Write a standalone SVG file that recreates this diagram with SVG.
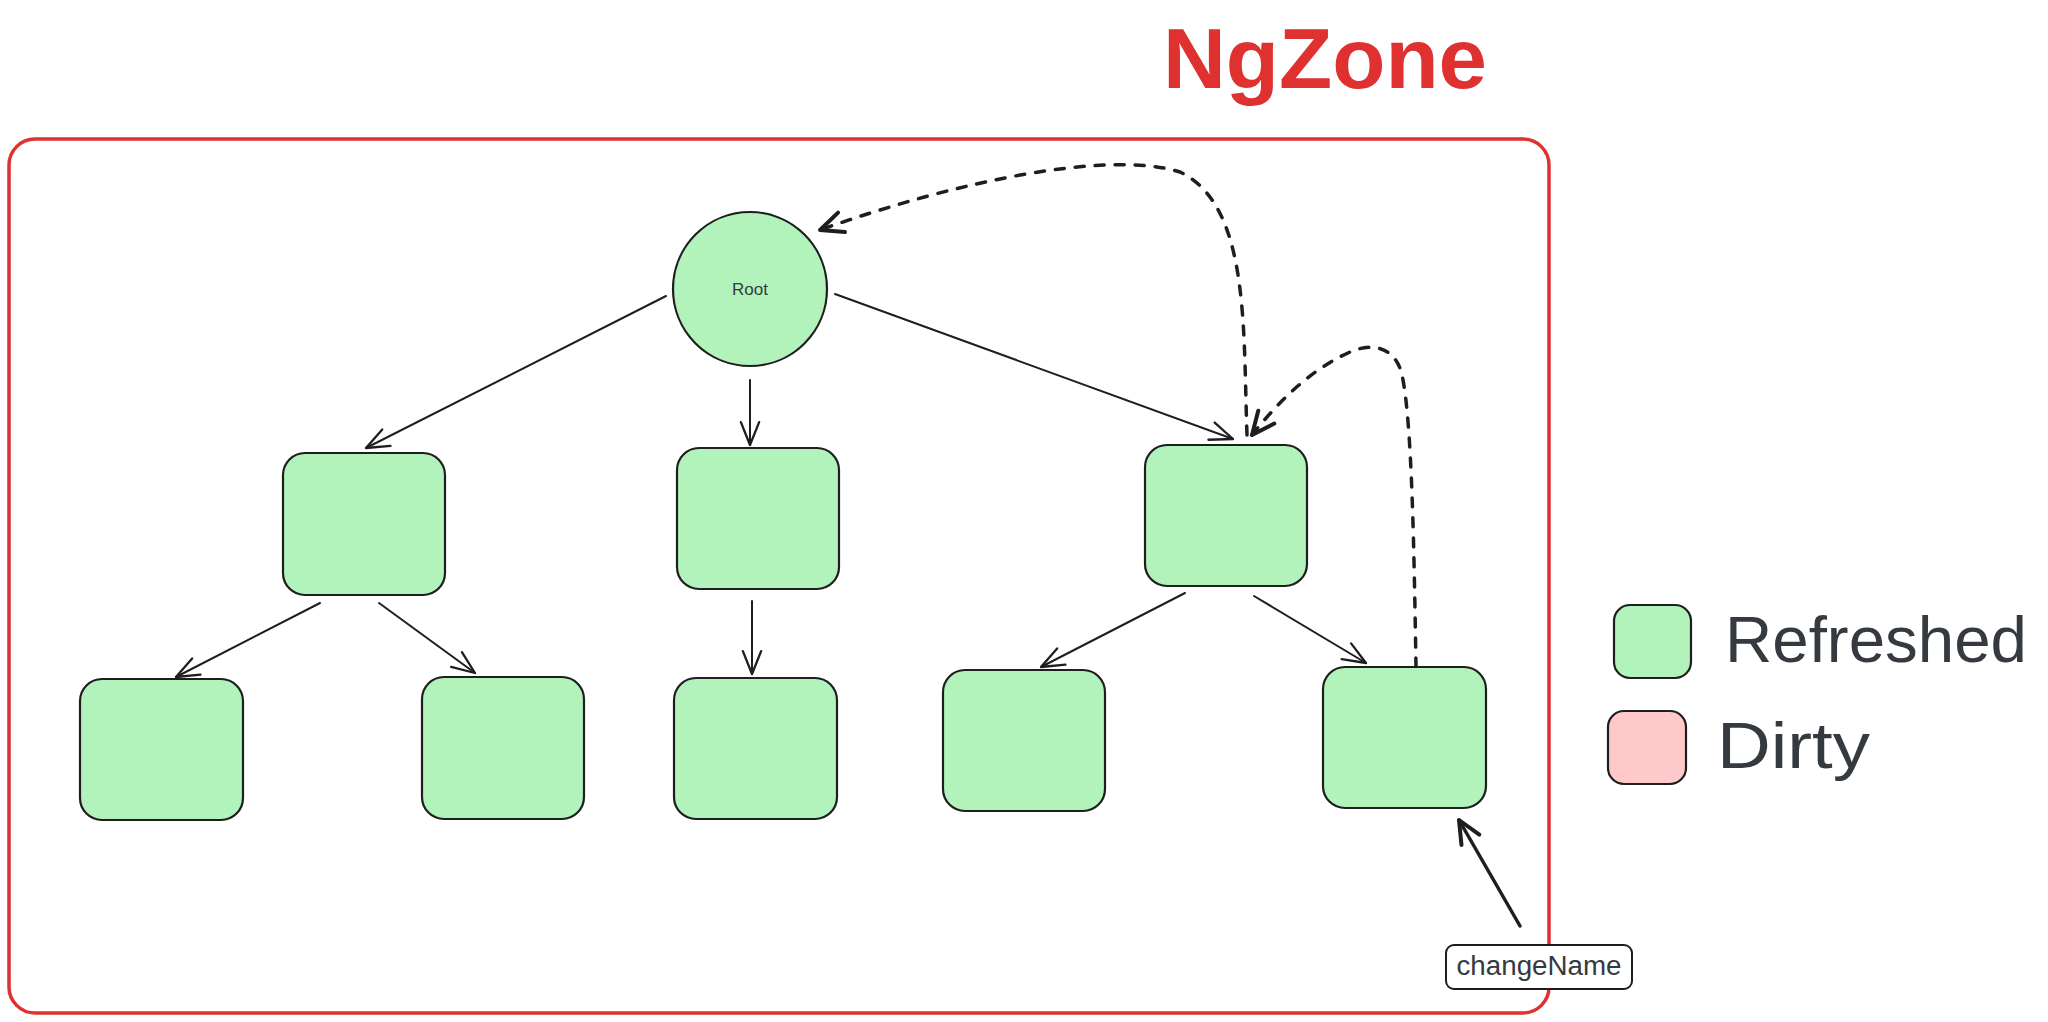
<svg xmlns="http://www.w3.org/2000/svg" width="2048" height="1022" viewBox="0 0 2048 1022">
<style>
.node{fill:#b2f2bb;stroke:#1e1e1e;stroke-width:2.2}
.dirty{fill:#ffc9c9;stroke:#1e1e1e;stroke-width:2.2}
.edge{fill:none;stroke:#1e1e1e;stroke-width:2;stroke-linecap:round}
.thick{stroke-width:3.5}
.dash{fill:none;stroke:#1e1e1e;stroke-width:3.5;stroke-dasharray:9 11;stroke-linecap:round}
.txt{font-family:"Liberation Sans",Arial,sans-serif;fill:#343a40}
</style>
<defs>
<marker id="ah" markerUnits="userSpaceOnUse" markerWidth="40" markerHeight="40" refX="0" refY="0" viewBox="-30 -15 35 30" orient="auto" overflow="visible">
<path d="M-20,-8 L0,0 L-20,8" fill="none" stroke="#1e1e1e" stroke-width="2" stroke-linecap="round" stroke-linejoin="round"/>
</marker>
<marker id="ahb" markerUnits="userSpaceOnUse" markerWidth="40" markerHeight="40" refX="0" refY="0" viewBox="-30 -15 35 30" orient="auto" overflow="visible">
<path d="M-20,-9 L0,0 L-20,9" fill="none" stroke="#1e1e1e" stroke-width="3.5" stroke-linecap="round" stroke-linejoin="round"/>
</marker>
</defs>
<rect width="2048" height="1022" fill="#ffffff"/>

<g id="ngzone">
<rect x="9" y="139" width="1540" height="874" rx="26" fill="none" stroke="#e03131" stroke-width="3.5"/>
<text x="1163" y="88" font-size="86" font-weight="bold" textLength="324" lengthAdjust="spacingAndGlyphs" font-family="Liberation Sans,Arial,sans-serif" fill="#e03131">NgZone</text>
</g>

<g id="connectors">
<line class="edge" x1="666" y1="296" x2="366" y2="448" marker-end="url(#ah)"/>
<line class="edge" x1="750" y1="380" x2="750" y2="445" marker-end="url(#ah)"/>
<line class="edge" x1="835" y1="294" x2="1233" y2="439" marker-end="url(#ah)"/>
<line class="edge" x1="320" y1="603" x2="176" y2="677" marker-end="url(#ah)"/>
<line class="edge" x1="379" y1="603" x2="475" y2="673" marker-end="url(#ah)"/>
<line class="edge" x1="752" y1="601" x2="752" y2="674" marker-end="url(#ah)"/>
<line class="edge" x1="1185" y1="593" x2="1041" y2="667" marker-end="url(#ah)"/>
<line class="edge" x1="1254" y1="596" x2="1366" y2="663" marker-end="url(#ah)"/>
<line class="edge thick" x1="1520" y1="926" x2="1459" y2="820" marker-end="url(#ahb)"/>
<path class="dash" d="M1247,435 C1243,330 1250,205 1180,172 C1110,150 960,180 820,230" marker-end="url(#ahb)"/>
<path class="dash" d="M1416,667 C1414,550 1412,420 1402,375 C1395,345 1370,343 1350,352 C1310,370 1280,400 1252,435" marker-end="url(#ahb)"/>
</g>

<g id="root">
<circle class="node" cx="750" cy="289" r="77"/>
<text class="txt" x="750" y="295" font-size="17" text-anchor="middle" fill="#1e1e1e">Root</text>
</g>
<g id="nodeA"><rect class="node" x="283" y="453" width="162" height="142" rx="22"/></g>
<g id="nodeB"><rect class="node" x="677" y="448" width="162" height="141" rx="22"/></g>
<g id="nodeC"><rect class="node" x="1145" y="445" width="162" height="141" rx="22"/></g>
<g id="nodeD"><rect class="node" x="80" y="679" width="163" height="141" rx="22"/></g>
<g id="nodeE"><rect class="node" x="422" y="677" width="162" height="142" rx="22"/></g>
<g id="nodeF"><rect class="node" x="674" y="678" width="163" height="141" rx="22"/></g>
<g id="nodeG"><rect class="node" x="943" y="670" width="162" height="141" rx="22"/></g>
<g id="nodeH"><rect class="node" x="1323" y="667" width="163" height="141" rx="22"/></g>

<g id="changeName">
<rect x="1446" y="945" width="186" height="44" rx="8" fill="#ffffff" stroke="#1e1e1e" stroke-width="2"/>
<text class="txt" x="1539" y="975" font-size="27" text-anchor="middle" textLength="165" lengthAdjust="spacingAndGlyphs" fill="#1e1e1e">changeName</text>
</g>

<g id="legend-refreshed">
<rect class="node" x="1614" y="605" width="77" height="73" rx="16"/>
<text class="txt" x="1725" y="662" font-size="65" textLength="302" lengthAdjust="spacingAndGlyphs">Refreshed</text>
</g>
<g id="legend-dirty">
<rect class="dirty" x="1608" y="711" width="78" height="73" rx="16"/>
<text class="txt" x="1717" y="768" font-size="65" textLength="153" lengthAdjust="spacingAndGlyphs">Dirty</text>
</g>
</svg>
